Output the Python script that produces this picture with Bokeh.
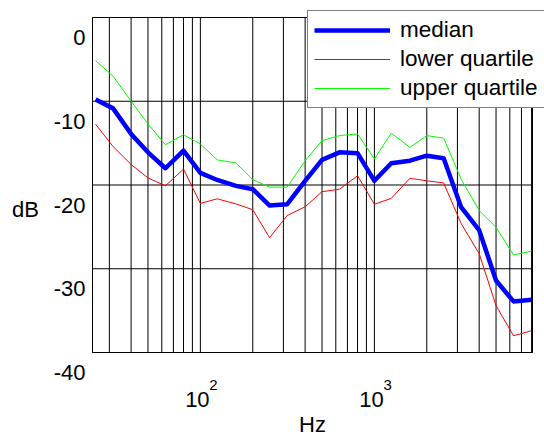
import math
from bokeh.plotting import figure
from bokeh.models import Label, Legend, LegendItem, Range1d, LogScale
from bokeh.embed import file_html
from bokeh.resources import INLINE

# 1/3-octave band centre frequencies (Hz)
freqs = [25, 31.5, 40, 50, 63, 80, 100, 125, 160, 200, 250, 315, 400, 500,
         630, 800, 1000, 1250, 1600, 2000, 2500, 3150, 4000, 5000, 6300, 8000]
median = [-9.8, -10.85, -13.9, -16.1, -18.0, -15.9, -18.55, -19.4, -20.1, -20.5,
          -22.45, -22.3, -19.5, -17.0, -16.1, -16.2, -19.5, -17.4, -17.1, -16.5,
          -16.8, -22.65, -25.4, -31.4, -33.9, -33.7]
lower_q = [-12.75, -15.4, -17.55, -19.15, -20.1, -18.1, -22.2, -21.65, -22.25, -22.95,
           -26.3, -23.65, -22.6, -20.8, -20.5, -18.9, -22.3, -21.6, -19.2, -19.5,
           -19.75, -24.6, -28.2, -34.4, -38.0, -37.4]
upper_q = [-5.15, -7.0, -10.0, -12.7, -15.2, -14.0, -15.1, -17.0, -17.35, -19.35,
           -20.25, -20.25, -17.1, -14.7, -14.1, -13.9, -16.9, -13.8, -15.5, -14.1,
           -14.4, -19.3, -23.05, -25.05, -28.35, -27.9]

x_lim = [24, 8100]
y_lim = [-40, 0]
x_major = [100, 1000]
x_major_base = ["10", "10"]
x_major_exp = ["2", "3"]
x_minor = [30, 40, 50, 60, 70, 80, 90,
           200, 300, 400, 500, 600, 700, 800, 900,
           2000, 3000, 4000, 5000, 6000, 7000, 8000]
y_ticks = [0, -10, -20, -30, -40]
y_tick_labels = ["0", "-10", "-20", "-30", "-40"]

FONT = "Liberation Sans"
FS = "22px"

# layout: pixel box of the axes inside the canvas
W, H = 544, 439
BOX_L, BOX_R, BOX_T, BOX_B = 92, 532, 17, 352
lx0, lx1 = math.log10(x_lim[0]), math.log10(x_lim[1])
ppd = (BOX_R - BOX_L) / (lx1 - lx0)
x_start = 10 ** (lx0 - BOX_L / ppd)
x_end = 10 ** (lx1 + (W - BOX_R) / ppd)
ppu = (BOX_B - BOX_T) / (y_lim[1] - y_lim[0])
y_end = y_lim[1] + BOX_T / ppu
y_start = y_lim[0] - (H - BOX_B) / ppu

p = figure(width=W, height=H, x_range=Range1d(x_start, x_end), y_range=Range1d(y_start, y_end),
           x_axis_location=None, y_axis_location=None,
           output_backend="svg", toolbar_location=None,
           min_border_left=0, min_border_right=0, min_border_top=0, min_border_bottom=0)
p.x_scale = LogScale()
p.grid.visible = False
p.background_fill_color = "white"
p.border_fill_color = "white"
p.outline_line_color = None

# grid lines (from tick arrays)
xg = x_major + x_minor
p.segment(x0=xg, y0=[y_lim[0]] * len(xg), x1=xg, y1=[y_lim[1]] * len(xg),
          line_color="black", line_width=1)
p.segment(x0=[x_lim[0]] * len(y_ticks), y0=y_ticks, x1=[x_lim[1]] * len(y_ticks), y1=y_ticks,
          line_color="black", line_width=1)

r_med = p.line(freqs, median, line_color="#0000ff", line_width=4.5, line_join="round")
r_low = p.line(freqs, lower_q, line_color="#ff0000", line_width=1)
r_up = p.line(freqs, upper_q, line_color="#00ff00", line_width=1)

# axes box
p.quad(left=[x_lim[0]], right=[x_lim[1]], bottom=[y_lim[0]], top=[y_lim[1]],
       fill_color=None, line_color="black", line_width=1)

legend = Legend(items=[LegendItem(label="median", renderers=[r_med]),
                       LegendItem(label="lower quartile", renderers=[r_low]),
                       LegendItem(label="upper quartile", renderers=[r_up])],
                location=(307, H - 108), margin=0, padding=6, spacing=3,
                glyph_width=76, glyph_height=26, label_height=26, label_standoff=10,
                label_text_font=FONT, label_text_font_size="22.5px", label_text_color="black",
                border_line_color="black", border_line_width=1,
                background_fill_color="white", background_fill_alpha=1)
p.add_layout(legend)

# y tick labels
for t, s in zip(y_ticks, y_tick_labels):
    p.add_layout(Label(x=x_lim[0], y=t, text=s, x_offset=-7, y_offset=-20,
                       text_align="right", text_baseline="middle",
                       text_font=FONT, text_font_size=FS, text_color="black"))

# x tick labels 10^n
for t, b, e in zip(x_major, x_major_base, x_major_exp):
    p.add_layout(Label(x=t, y=y_lim[0], text=b, x_offset=-3, y_offset=-47,
                       text_align="center", text_baseline="middle",
                       text_font=FONT, text_font_size=FS, text_color="black"))
    p.add_layout(Label(x=t, y=y_lim[0], text=e, x_offset=9, y_offset=-32,
                       text_align="left", text_baseline="middle",
                       text_font=FONT, text_font_size="15px", text_color="black"))

# axis titles
p.add_layout(Label(x=(x_lim[0] * x_lim[1]) ** 0.5, y=y_lim[0], text="Hz", y_offset=-72,
                   text_align="center", text_baseline="middle",
                   text_font=FONT, text_font_size=FS, text_color="black"))
p.add_layout(Label(x=x_lim[0], y=(y_lim[0] + y_lim[1]) / 2, text="dB", x_offset=-67, y_offset=-24,
                   text_align="center", text_baseline="middle",
                   text_font=FONT, text_font_size=FS, text_color="black"))

open("out.html", "w").write(file_html(p, INLINE))
